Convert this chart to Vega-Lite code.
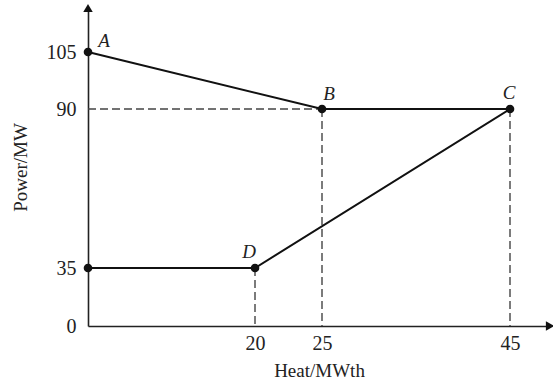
{
  "$schema": "https://vega.github.io/schema/vega-lite/v6.json",
  "width": 462,
  "height": 318,
  "autosize": {"type": "none"},
  "padding": {"left": 88, "top": 8, "right": 3, "bottom": 59},
  "background": "white",
  "config": {
    "view": {"stroke": null},
    "font": "Liberation Serif",
    "axis": {"grid": false, "ticks": false, "domainColor": "#222", "domainWidth": 1.6, "labelFont": "Liberation Serif", "labelFontSize": 20, "labelColor": "#222", "titleFont": "Liberation Serif", "titleFontSize": 19, "titleFontWeight": "normal", "titleColor": "#222"}
  },
  "datasets": {
    "curve": [
      {"heat": 0, "power": 105, "ord": 1},
      {"heat": 25, "power": 90, "ord": 2},
      {"heat": 45, "power": 90, "ord": 3},
      {"heat": 20, "power": 35, "ord": 4},
      {"heat": 0, "power": 35, "ord": 5}
    ],
    "guides": [
      {"x1": 0, "y1": 90, "x2": 25, "y2": 90},
      {"x1": 25, "y1": 90, "x2": 25, "y2": 0},
      {"x1": 45, "y1": 90, "x2": 45, "y2": 0},
      {"x1": 20, "y1": 35, "x2": 20, "y2": 0}
    ],
    "labels": [
      {"heat": 0, "power": 105, "name": "A"},
      {"heat": 25, "power": 90, "name": "B"},
      {"heat": 45, "power": 90, "name": "C"},
      {"heat": 20, "power": 35, "name": "D"}
    ],
    "arrows": [
      {"heat": 49.5, "power": 0, "shape": "triangle-right"},
      {"heat": 0, "power": 115, "shape": "triangle-up"}
    ]
  },
  "layer": [
    {
      "data": {"name": "guides"},
      "mark": {"type": "rule", "strokeDash": [8, 4], "color": "#444", "strokeWidth": 1.4},
      "encoding": {
        "x": {"field": "x1", "type": "quantitative",
              "scale": {"domain": [0, 20, 25, 45, 49.5], "range": [0, 167, 234, 422, 462], "zero": false, "nice": false},
              "axis": {"values": [20, 25, 45], "title": "Heat/MWth", "labelPadding": 7, "titlePadding": 8}},
        "x2": {"field": "x2"},
        "y": {"field": "y1", "type": "quantitative",
              "scale": {"domain": [0, 35, 90, 105, 115], "range": [318, 260, 101, 44, 0], "zero": false, "nice": false},
              "axis": {"values": [0, 35, 90, 105], "title": "Power/MW", "labelPadding": 12, "titlePadding": 16}},
        "y2": {"field": "y2"}
      }
    },
    {
      "data": {"name": "curve"},
      "mark": {"type": "line", "color": "#111", "strokeWidth": 2},
      "encoding": {
        "x": {"field": "heat", "type": "quantitative"},
        "y": {"field": "power", "type": "quantitative"},
        "order": {"field": "ord"}
      }
    },
    {
      "data": {"name": "curve"},
      "mark": {"type": "circle", "color": "#111", "size": 75, "opacity": 1},
      "encoding": {
        "x": {"field": "heat", "type": "quantitative"},
        "y": {"field": "power", "type": "quantitative"}
      }
    },
    {
      "data": {"name": "labels"},
      "transform": [{"filter": "datum.name == 'A'"}],
      "mark": {"type": "text", "font": "Liberation Serif", "fontStyle": "italic", "fontSize": 19, "color": "#222", "dx": 16, "dy": -11},
      "encoding": {
        "x": {"field": "heat", "type": "quantitative"},
        "y": {"field": "power", "type": "quantitative"},
        "text": {"field": "name"}
      }
    },
    {
      "data": {"name": "labels"},
      "transform": [{"filter": "datum.name == 'B'"}],
      "mark": {"type": "text", "font": "Liberation Serif", "fontStyle": "italic", "fontSize": 19, "color": "#222", "dx": 7, "dy": -15},
      "encoding": {
        "x": {"field": "heat", "type": "quantitative"},
        "y": {"field": "power", "type": "quantitative"},
        "text": {"field": "name"}
      }
    },
    {
      "data": {"name": "labels"},
      "transform": [{"filter": "datum.name == 'C'"}],
      "mark": {"type": "text", "font": "Liberation Serif", "fontStyle": "italic", "fontSize": 19, "color": "#222", "dx": -1, "dy": -16},
      "encoding": {
        "x": {"field": "heat", "type": "quantitative"},
        "y": {"field": "power", "type": "quantitative"},
        "text": {"field": "name"}
      }
    },
    {
      "data": {"name": "labels"},
      "transform": [{"filter": "datum.name == 'D'"}],
      "mark": {"type": "text", "font": "Liberation Serif", "fontStyle": "italic", "fontSize": 19, "color": "#222", "dx": -6, "dy": -16},
      "encoding": {
        "x": {"field": "heat", "type": "quantitative"},
        "y": {"field": "power", "type": "quantitative"},
        "text": {"field": "name"}
      }
    },
    {
      "data": {"name": "arrows"},
      "mark": {"type": "point", "filled": true, "color": "#111", "size": 90, "opacity": 1, "clip": false},
      "encoding": {
        "x": {"field": "heat", "type": "quantitative"},
        "y": {"field": "power", "type": "quantitative"},
        "shape": {"field": "shape", "type": "nominal", "scale": null}
      }
    }
  ]
}
